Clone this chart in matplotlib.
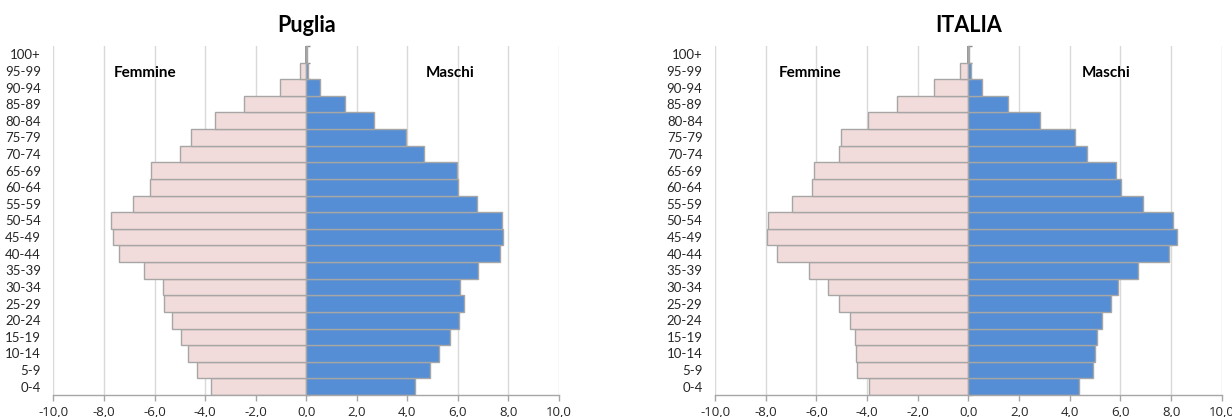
import matplotlib
matplotlib.use("Agg")
import matplotlib.pyplot as plt
from matplotlib.ticker import FuncFormatter

plt.rcParams['font.family'] = ['Lato', 'DejaVu Sans']

age_groups = ["0-4", "5-9", "10-14", "15-19", "20-24", "25-29", "30-34", "35-39",
              "40-44", "45-49", "50-54", "55-59", "60-64", "65-69", "70-74", "75-79",
              "80-84", "85-89", "90-94", "95-99", "100+"]

puglia_femmine = [-3.77, -4.31, -4.68, -4.97, -5.30, -5.61, -5.66, -6.42, -7.39, -7.63,
                  -7.73, -6.87, -6.17, -6.13, -5.01, -4.56, -3.61, -2.47, -1.05, -0.23, -0.02]
puglia_maschi = [4.29, 4.91, 5.24, 5.67, 6.04, 6.23, 6.07, 6.79, 7.68, 7.77,
                 7.73, 6.74, 6.00, 5.98, 4.67, 3.93, 2.70, 1.53, 0.53, 0.09, 0.02]

italia_femmine = [-3.92, -4.39, -4.45, -4.46, -4.66, -5.12, -5.53, -6.30, -7.55, -7.95,
                  -7.90, -6.95, -6.17, -6.08, -5.12, -5.01, -3.95, -2.80, -1.34, -0.32, -0.02]
italia_maschi = [4.36, 4.93, 4.99, 5.08, 5.29, 5.61, 5.92, 6.69, 7.92, 8.22,
                 8.09, 6.91, 6.04, 5.84, 4.69, 4.21, 2.84, 1.58, 0.54, 0.09, 0.02]

titles = ["Puglia", "ITALIA"]
x_ticks = [-10, -8, -6, -4, -2, 0, 2, 4, 6, 8, 10]

col_f = "#F2DCDB"
col_m = "#558ED5"
edge = "#A6A6A6"
grid_col = "#D9D9D9"

fig = plt.figure(figsize=(12.32, 4.17), dpi=100)
axes_pos = [[0.0434, 0.0528, 0.4103, 0.837], [0.5804, 0.0528, 0.4113, 0.837]]
label_pos = [(-6.37, 5.7), (-6.25, 5.43)]

datasets = [(puglia_femmine, puglia_maschi), (italia_femmine, italia_maschi)]
fmt = FuncFormatter(lambda v, p: f"{v:.1f}".replace(".", ","))

for i, (fem, mas) in enumerate(datasets):
    ax = fig.add_axes(axes_pos[i])
    y = list(range(len(age_groups)))
    ax.axvline(0, color="#8C8C8C", linewidth=1.3, zorder=1.5)
    ax.barh(y, fem, height=1.0, color=col_f, edgecolor=edge, linewidth=1.0, zorder=2)
    ax.barh(y, mas, height=1.0, color=col_m, edgecolor=edge, linewidth=1.0, zorder=2)
    ax.set_xlim(-10, 10)
    ax.set_ylim(-0.5, len(age_groups) - 0.5)
    ax.set_xticks(x_ticks)
    ax.xaxis.set_major_formatter(fmt)
    ax.set_yticks(y)
    ax.set_yticklabels(age_groups)
    ax.tick_params(axis='y', length=0, pad=9, labelsize=9.5, colors="#262626")
    ax.tick_params(axis='x', length=4, width=1, color=edge, labelsize=9.5,
                   labelcolor="#262626", pad=4)
    for lbl in ax.get_xticklabels():
        lbl.set_fontfamily(['Open Sans', 'DejaVu Sans'])
    for s in ['left', 'right', 'top']:
        ax.spines[s].set_visible(False)
    ax.spines['bottom'].set_color(edge)
    ax.spines['bottom'].set_linewidth(1.0)
    ax.xaxis.grid(True, color=grid_col, linewidth=1.0, zorder=0)
    ax.set_axisbelow(True)
    sec = ax.secondary_yaxis(0.5)
    sec.set_yticks([k - 0.5 for k in range(len(age_groups) + 1)])
    sec.set_yticklabels([])
    sec.tick_params(length=3, width=1, color="#8C8C8C", direction='out')
    sec.spines['left'].set_visible(False)
    ax.set_title(titles[i], fontsize=15.5, fontweight='bold', pad=10, color="black")
    fx, mx = label_pos[i]
    ax.text(fx, 19 - 0.15, "Femmine", ha='center', va='center', fontsize=11,
            fontweight='bold', color="black", zorder=4)
    ax.text(mx, 19 - 0.15, "Maschi", ha='center', va='center', fontsize=11,
            fontweight='bold', color="black", zorder=4)

fig.savefig("out.png", dpi=100)
